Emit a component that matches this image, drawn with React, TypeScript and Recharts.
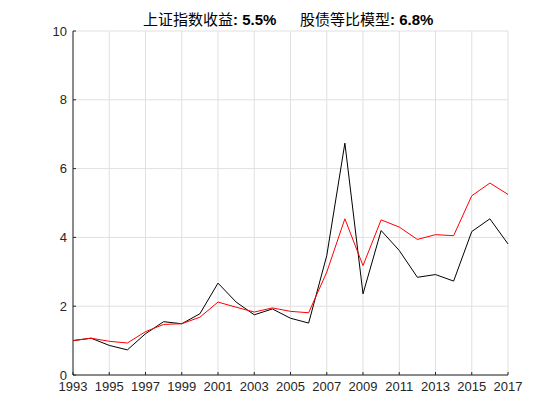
import { LineChart, Line, XAxis, YAxis, CartesianGrid } from "recharts"

const years = [1993, 1994, 1995, 1996, 1997, 1998, 1999, 2000, 2001, 2002, 2003, 2004, 2005, 2006, 2007, 2008, 2009, 2010, 2011, 2012, 2013, 2014, 2015, 2016, 2017]
// 上证指数 (black)
const indexValues = [1.0, 1.07, 0.86, 0.73, 1.2, 1.55, 1.49, 1.78, 2.67, 2.12, 1.75, 1.92, 1.65, 1.51, 3.47, 6.74, 2.36, 4.2, 3.62, 2.84, 2.92, 2.73, 4.17, 4.54, 3.81]
// 股债等比模型 (red)
const modelValues = [1.0, 1.07, 0.98, 0.93, 1.26, 1.47, 1.49, 1.68, 2.12, 1.97, 1.83, 1.95, 1.85, 1.81, 2.99, 4.54, 3.18, 4.51, 4.3, 3.94, 4.08, 4.05, 5.21, 5.58, 5.25]
const xTicks = [1993, 1995, 1997, 1999, 2001, 2003, 2005, 2007, 2009, 2011, 2013, 2015, 2017]
const yTicks = [0, 2, 4, 6, 8, 10]

const data = years.map((year, i) => ({ year, index: indexValues[i], model: modelValues[i] }))

const axisColor = "#262626"
const font = "'Liberation Sans', Arial, sans-serif"

export default function App() {
  return (
    <div style={{ position: "absolute", left: 0, top: 0, width: 560, height: 420, background: "#fff" }}>
      <LineChart width={560} height={420} data={data} margin={{ top: 31, right: 52, bottom: 0, left: 0 }}>
        <CartesianGrid stroke="#e0e0e0" strokeWidth={1} />
        <XAxis
          dataKey="year"
          type="number"
          domain={[1993, 2017]}
          ticks={xTicks}
          height={45}
          interval={0}
          stroke={axisColor}
          tickSize={-3}
          tickMargin={10}
          tick={{ fill: axisColor, fontSize: 13, fontFamily: font }}
        />
        <YAxis
          type="number"
          domain={[0, 10]}
          ticks={yTicks}
          width={73}
          interval={0}
          stroke={axisColor}
          tickSize={-3}
          tickMargin={9}
          tick={{ fill: axisColor, fontSize: 13, fontFamily: font }}
        />
        <Line type="linear" dataKey="index" stroke="#000000" strokeWidth={1} dot={false} isAnimationActive={false} />
        <Line type="linear" dataKey="model" stroke="#ff0000" strokeWidth={1} dot={false} isAnimationActive={false} />
        <text y={25} fontSize={15} fill="#000" style={{ fontFamily: "'Noto Sans CJK SC', sans-serif" }}>
          <tspan x={143}>上证指数收益</tspan>
          <tspan fontWeight="bold" style={{ fontFamily: font }}>: 5.5%</tspan>
          <tspan x={300}>股债等比模型</tspan>
          <tspan fontWeight="bold" style={{ fontFamily: font }}>: 6.8%</tspan>
        </text>
      </LineChart>
    </div>
  )
}
